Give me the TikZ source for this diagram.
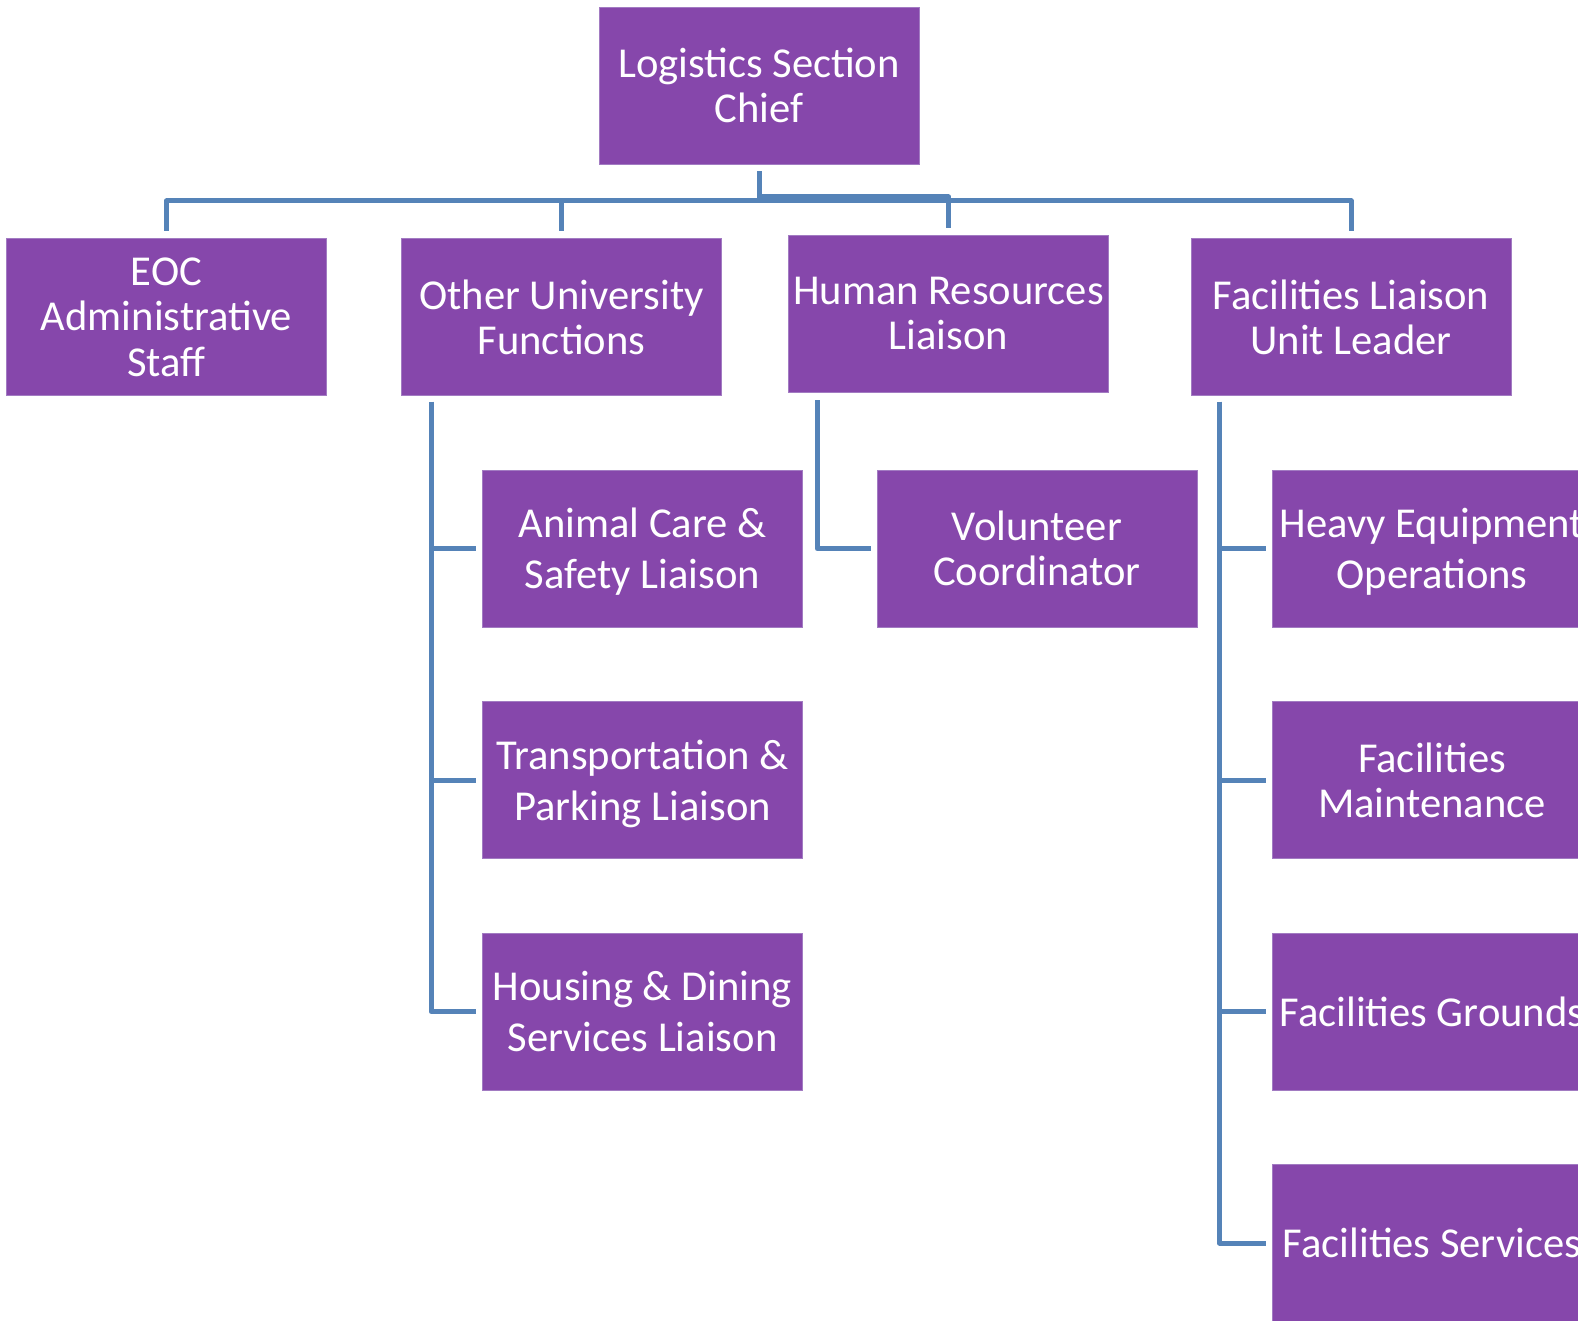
\documentclass[tikz,border=0pt]{standalone}
\usepackage{fontspec}
\setmainfont{Carlito}
\usepackage{tikz}
\usetikzlibrary{positioning}
\definecolor{boxpurple}{HTML}{8647AB}
\definecolor{boxedge}{HTML}{A27BC2}
\definecolor{linkblue}{HTML}{5583B8}
\begin{document}
\begin{tikzpicture}[
    x=0.5pt, y=-0.5pt,
    every node/.style={font=\fontsize{21.3}{22.7}\selectfont},
    unit/.style={rectangle, minimum width=160pt, minimum height=78.5pt, inner sep=0pt,
        text depth=0pt, align=center, text=white, fill=boxpurple, draw=boxedge, line width=0.4pt},
    loose/.style={font=\fontsize{21.3}{25.6}\selectfont},
    link/.style={draw=linkblue, line width=2.5pt, line join=round}
]
\useasboundingbox (0,0) rectangle (1578,1321);
\clip (0,0) rectangle (1578,1321);
% top level
\node[unit] (chief) at (759,85.5) {Logistics Section\\Chief};
\node[unit] (eoc) at (166.5,317) {EOC\\Administrative\\Staff};
\node[unit] (univ) at (561.5,317) {Other University\\Functions};
\node[unit] (hr) at (948.5,313.5) {Human Resources\\Liaison};
\node[unit] (fac) at (1351,317) {Facilities Liaison\\Unit Leader};
% second level
\node[unit, loose] (animal) at (642.5,548.5) {Animal Care \&\\Safety Liaison};
\node[unit, loose] (transp) at (642.5,780) {Transportation \&\\Parking Liaison};
\node[unit, loose] (housing) at (642.5,1011.5) {Housing \& Dining\\Services Liaison};
\node[unit] (volunteer) at (1037,548.5) {Volunteer\\Coordinator};
\node[unit, loose] (heavy) at (1432,548.5) {Heavy Equipment\\Operations};
\node[unit] (maint) at (1432,780) {Facilities\\Maintenance};
\node[unit] (grounds) at (1432,1011.5) {Facilities Grounds};
\node[unit] (services) at (1432,1243) {Facilities Services};
% connectors
\coordinate (bus) at (759,201);
\coordinate (bushr) at (759,197);
\draw[link] ([yshift=-3.5pt]chief.south) |- (bus) -| ([yshift=3.5pt]eoc.north);
\draw[link] ([yshift=-3.5pt]chief.south) |- (bus) -| ([yshift=3.5pt]univ.north);
\draw[link] ([yshift=-3.5pt]chief.south) |- (bushr) -| ([yshift=3.5pt]hr.north);
\draw[link] ([yshift=-3.5pt]chief.south) |- (bus) -| ([yshift=3.5pt]fac.north);
\foreach \kid in {animal, transp, housing}
  \draw[link] ([xshift=15pt, yshift=-3pt]univ.south west) |- ([xshift=-3pt]\kid.west);
\draw[link] ([xshift=14.5pt, yshift=-4pt]hr.south west) |- ([xshift=-3pt]volunteer.west);
\foreach \kid in {heavy, maint, grounds, services}
  \draw[link] ([xshift=14.5pt, yshift=-3pt]fac.south west) |- ([xshift=-3pt]\kid.west);
\end{tikzpicture}
\end{document}
